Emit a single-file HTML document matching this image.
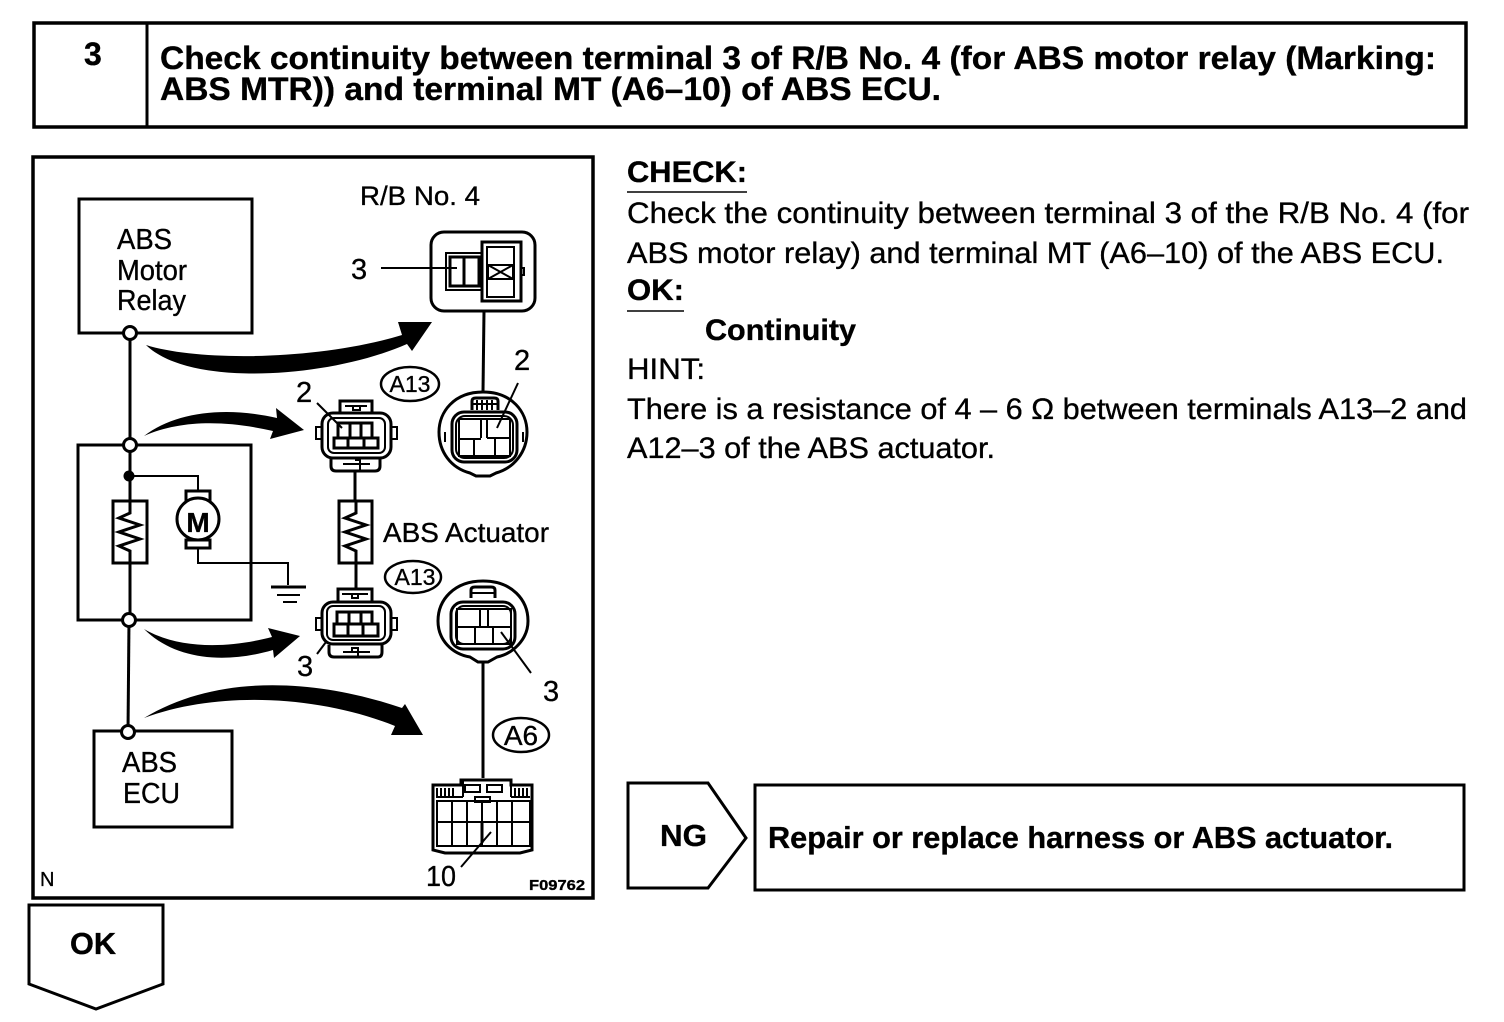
<!DOCTYPE html>
<html><head><meta charset="utf-8"><style>
html,body{margin:0;padding:0;background:#fff}
svg{display:block}
text{font-family:"Liberation Sans",sans-serif;fill:#000;stroke:#000;stroke-width:.35}
.b{font-weight:bold}
.s{fill:none;stroke:#000;stroke-width:3}
.t{fill:none;stroke:#000;stroke-width:2}
.f{fill:#000;stroke:none}
.w{fill:#fff;stroke:#000;stroke-width:3}
</style></head><body>
<svg width="1504" height="1022" viewBox="0 0 1504 1022" xmlns="http://www.w3.org/2000/svg">
<rect width="1504" height="1022" fill="#fff"/>

<!-- header -->
<rect x="34" y="23" width="1432" height="104" fill="none" stroke="#000" stroke-width="3.5"/>
<line x1="147" y1="23" x2="147" y2="127" stroke="#000" stroke-width="3"/>
<text x="84" y="65" class="b" font-size="32">3</text>
<text x="160" y="69" class="b" font-size="32" textLength="1276" lengthAdjust="spacingAndGlyphs">Check continuity between terminal 3 of R/B No. 4 (for ABS motor relay (Marking:</text>
<text x="160" y="100" class="b" font-size="32" textLength="781" lengthAdjust="spacingAndGlyphs">ABS MTR)) and terminal MT (A6–10) of ABS ECU.</text>

<!-- diagram box -->
<rect x="33" y="157" width="560" height="741" fill="none" stroke="#000" stroke-width="3.5"/>

<!-- right text -->
<text x="627" y="182" class="b" font-size="30" textLength="120" lengthAdjust="spacingAndGlyphs">CHECK:</text>
<line x1="627" y1="192" x2="747" y2="192" stroke="#000" stroke-width="1.5"/>
<text x="627" y="223" font-size="30" textLength="842" lengthAdjust="spacingAndGlyphs">Check the continuity between terminal 3 of the R/B No. 4 (for</text>
<text x="627" y="263" font-size="30" textLength="817" lengthAdjust="spacingAndGlyphs">ABS motor relay) and terminal MT (A6–10) of the ABS ECU.</text>
<text x="627" y="300" class="b" font-size="30" textLength="57" lengthAdjust="spacingAndGlyphs">OK:</text>
<line x1="627" y1="311" x2="684" y2="311" stroke="#000" stroke-width="1.5"/>
<text x="705" y="340" class="b" font-size="30" textLength="151" lengthAdjust="spacingAndGlyphs">Continuity</text>
<text x="627" y="379" font-size="30" textLength="78" lengthAdjust="spacingAndGlyphs">HINT:</text>
<text x="627" y="419" font-size="30" textLength="840" lengthAdjust="spacingAndGlyphs">There is a resistance of 4 – 6 Ω between terminals A13–2 and</text>
<text x="627" y="458" font-size="30" textLength="368" lengthAdjust="spacingAndGlyphs">A12–3 of the ABS actuator.</text>

<!-- NG -->
<path class="s" d="M628 783H708L746 838L708 888H628Z"/>
<text x="660" y="846" class="b" font-size="31" textLength="47" lengthAdjust="spacingAndGlyphs">NG</text>
<rect x="755" y="785" width="709" height="105" class="s"/>
<text x="768" y="848" class="b" font-size="31" textLength="625" lengthAdjust="spacingAndGlyphs">Repair or replace harness or ABS actuator.</text>

<!-- OK -->
<path class="s" d="M29 905H163V984L96 1009L29 984Z"/>
<text x="70" y="954" class="b" font-size="31" textLength="46" lengthAdjust="spacingAndGlyphs">OK</text>

<!-- left schematic -->
<rect x="79" y="199" width="173" height="134" class="s"/>
<text x="117" y="249" font-size="29" textLength="55" lengthAdjust="spacingAndGlyphs">ABS</text>
<text x="117" y="280" font-size="29" textLength="70" lengthAdjust="spacingAndGlyphs">Motor</text>
<text x="117" y="310" font-size="29" textLength="69" lengthAdjust="spacingAndGlyphs">Relay</text>
<line x1="130" y1="333" x2="130" y2="445" class="s"/>
<rect x="78" y="445" width="173" height="175" class="s"/>
<line x1="130" y1="445" x2="130" y2="500" class="s"/>
<circle cx="129" cy="476" r="5.5" class="f"/>
<path class="t" d="M129 476H198V492" stroke-width="2.5"/>
<rect x="113" y="501" width="34" height="62" class="s"/>
<path class="s" stroke-width="2.5" d="M130 500V513L119 518L140 525L119 532L140 539L119 546L130 551V620"/>
<!-- motor -->
<rect x="186" y="491" width="24" height="10" class="s"/>
<rect x="186" y="540" width="24" height="8" class="s"/>
<circle cx="198" cy="519" r="21" fill="#fff" stroke="#000" stroke-width="3"/>
<text x="198" y="532" class="b" font-size="28" text-anchor="middle" stroke-width="1">M</text>
<path class="t" d="M198 548V563H288V585" stroke-width="2.5"/>
<line x1="271" y1="587" x2="306" y2="587" class="s"/>
<line x1="277" y1="595" x2="300" y2="595" class="t"/>
<line x1="283" y1="602" x2="297" y2="602" class="t"/>
<line x1="129" y1="620" x2="128" y2="732" class="s" stroke-width="2.5"/>
<rect x="94" y="731" width="138" height="96" class="s"/>
<text x="122" y="772" font-size="29" textLength="55" lengthAdjust="spacingAndGlyphs">ABS</text>
<text x="123" y="803" font-size="29" textLength="57" lengthAdjust="spacingAndGlyphs">ECU</text>
<circle cx="130" cy="333" r="6.5" class="w"/>
<circle cx="130" cy="445" r="6.5" class="w"/>
<circle cx="129" cy="620" r="6.5" class="w"/>
<circle cx="128" cy="732" r="6.5" class="w"/>

<!-- big arrows -->
<path class="f" d="M146 345C200 362 320 360 402 335L398 322L432 322L412 351L407 344C330 378 190 388 146 345Z"/>
<path class="f" d="M144 436C175 412 225 406 277 418L276 408L304 430L270 439L273 431C225 420 180 420 144 436Z"/>
<path class="f" d="M144 629C180 650 230 648 272 637L268 628L300 636L274 658L273 650C225 664 175 660 144 629Z"/>
<path class="f" d="M144 718C220 672 320 680 402 708L405 704L423 735L391 735L395 726C320 696 220 690 144 718Z"/>

<!-- R/B -->
<text x="360" y="205" font-size="27" textLength="120" lengthAdjust="spacingAndGlyphs">R/B No. 4</text>
<text x="351" y="279" font-size="29">3</text>
<line x1="381" y1="268" x2="457" y2="268" class="t"/>
<rect x="431" y="232" width="104" height="79" rx="13" class="s"/>
<path class="t" d="M482 253H446V290H482"/>
<rect x="450" y="257" width="29" height="29" class="s"/>
<line x1="464" y1="257" x2="464" y2="286" class="s"/>
<path class="s" d="M482 242H521V301H482Z"/>
<rect x="487" y="247" width="27" height="50" class="t"/>
<path class="t" d="M488 265H513V279H488ZM488 265L513 279M513 265L488 279"/>
<path class="t" d="M521 268H524V275H521"/>
<line x1="484" y1="311" x2="483" y2="392" class="s"/>

<!-- top small connector -->
<text x="296" y="402" font-size="29">2</text>
<line x1="317" y1="403" x2="342" y2="428" class="t"/>
<ellipse cx="410" cy="384" rx="29" ry="17" fill="#fff" stroke="#000" stroke-width="2.5"/>
<text x="410" y="392" font-size="23" text-anchor="middle" stroke-width=".7">A13</text>
<path class="s" d="M340 414V401H372V414"/>
<path class="t" d="M345 406H367M353 406V410H360V406"/>
<rect x="322" y="413" width="69" height="45" rx="11" class="s"/>
<rect x="328" y="418" width="57" height="35" rx="6" class="t"/>
<path class="t" d="M322 427H316V439H322M391 427H397V439H391"/>
<path class="s" stroke-width="2.5" d="M338 423H372V438H338ZM350 423V438M361 423V438M334 438H378V448H334ZM348 438V448M364 438V448"/>
<path class="s" d="M331 459V466Q331 471 336 471H375Q380 471 380 466V459"/>
<path class="t" d="M343 464H370M355 460H360V470"/>
<line x1="355" y1="470" x2="355" y2="500" class="s"/>
<rect x="339" y="501" width="33" height="62" class="s"/>
<path class="s" stroke-width="2.5" d="M356 500V513L345 518L366 525L345 532L366 539L345 546L356 551V588"/>
<text x="383" y="542" font-size="28" textLength="166" lengthAdjust="spacingAndGlyphs">ABS Actuator</text>

<!-- lower small connector -->
<ellipse cx="413" cy="577" rx="28" ry="16" fill="#fff" stroke="#000" stroke-width="2.5"/>
<text x="415" y="585" font-size="23" text-anchor="middle" stroke-width=".7">A13</text>
<path class="s" d="M338 603V589H372V603"/>
<path class="t" d="M342 594H368M352 594V598H358V594"/>
<rect x="322" y="602" width="69" height="42" rx="11" class="s"/>
<rect x="327" y="606" width="58" height="34" rx="6" class="t"/>
<path class="t" d="M322 618H316V630H322M391 618H397V630H391"/>
<path class="s" stroke-width="2.5" d="M337 612H372V624H337ZM349 612V624M361 612V624M334 624H378V636H334ZM348 624V636M363 624V636"/>
<path class="s" d="M329 645V652Q329 657 334 657H378Q382 657 382 652V645"/>
<path class="t" d="M343 652H370M352 652V648H358V656"/>
<line x1="326" y1="642" x2="317" y2="654" class="t"/>
<text x="297" y="676" font-size="29">3</text>

<!-- top round connector -->
<text x="514" y="370" font-size="29">2</text>
<line x1="518" y1="383" x2="497" y2="428" class="t"/>
<path class="s" d="M483 392C512 392 527 412 527 432C527 452 514 468 496 473L490 476H476L470 473C451 468 439 452 439 432C439 412 454 392 483 392Z"/>
<path class="s" d="M472 410V401Q472 398 476 398H494Q498 398 498 401V410"/>
<path class="t" d="M472 404H498M477 400V410M482 400V410M487 400V410M492 400V410"/>
<rect x="452" y="412" width="65" height="50" rx="12" class="s"/>
<rect x="456" y="416" width="57" height="42" rx="9" class="t"/>
<path class="t" d="M459 419H510V456H459ZM481 419V438M487 419V438M487 438H510M459 439H481M474 439V458M495 439V458"/>
<path class="t" d="M445 432V442M523 432V442"/>

<!-- lower round connector -->
<path class="s" d="M483 581C512 581 528 600 528 621C528 640 512 654 497 657L488 662H478L470 657C452 654 438 640 438 621C438 600 454 581 483 581Z"/>
<path class="s" d="M471 598V590Q471 587 475 587H491Q495 587 495 590V598"/>
<path class="t" d="M471 593H495"/>
<rect x="451" y="602" width="64" height="47" rx="12" class="s"/>
<rect x="456" y="606" width="55" height="38" rx="8" class="t"/>
<path class="t" d="M457 609H511V644H457ZM480 609V627M488 609V627M457 627H511M475 627V644M493 627V644"/>
<line x1="501" y1="632" x2="531" y2="673" class="t"/>
<text x="543" y="701" font-size="29">3</text>
<line x1="483" y1="662" x2="483" y2="778" class="s"/>
<ellipse cx="521" cy="735" rx="28" ry="17" fill="#fff" stroke="#000" stroke-width="2.5"/>
<text x="521" y="745" font-size="28" text-anchor="middle">A6</text>

<!-- A6 connector -->
<path class="s" d="M433 785H461V780H511V785H532V850L520 853H445L433 850Z"/>
<path class="t" d="M437 788V797M441 788V797M445 788V797M449 788V797M453 788V797M515 788V797M519 788V797M523 788V797M527 788V797"/>
<path class="t" d="M436 797H463M463 780V797M511 780V797M511 797H530"/>
<path class="t" d="M465 785H480V792H465ZM487 785H502V792H487ZM475 797H490V802H475Z"/>
<path class="t" d="M437 801H530V846H437ZM437 822H530M452 801V846M467 801V846M482 801V846M497 801V846M512 801V846"/>
<line x1="482" y1="822" x2="482" y2="843" class="s"/>
<line x1="491" y1="832" x2="461" y2="867" class="t"/>
<text x="426" y="886" font-size="29" textLength="30" lengthAdjust="spacingAndGlyphs">10</text>
<text x="40" y="886" font-size="20">N</text>
<text x="529" y="890" class="b" font-size="15" textLength="56" lengthAdjust="spacingAndGlyphs">F09762</text>
</svg>
</body></html>
